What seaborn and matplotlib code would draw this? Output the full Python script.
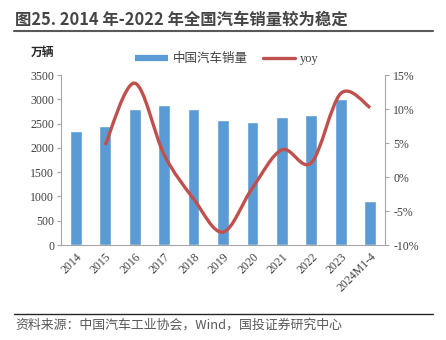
import numpy as np
import pandas as pd
import matplotlib
matplotlib.use("Agg")
import matplotlib.pyplot as plt
import seaborn as sns
from matplotlib.path import Path
from matplotlib.patches import PathPatch
from matplotlib.lines import Line2D

# ---- data ----
categories = ["2014", "2015", "2016", "2017", "2018", "2019", "2020",
              "2021", "2022", "2023", "2024M1-4"]
sales = [2349, 2460, 2803, 2888, 2808, 2577, 2531, 2627, 2686, 3009, 897]
yoy_cats = categories[1:]
yoy = [4.7, 13.8, 3.3, -3.2, -8.1, -1.6, 4.0, 2.1, 12.3, 10.2]

BAR = "#5B9BD5"
RED = "#C0504D"
AXC = "#A6A6A6"
TXT = "#404040"

sns.set_style("white")
plt.rcParams["font.family"] = ["Liberation Serif", "Noto Sans CJK SC", "DejaVu Sans"]

fig = plt.figure(figsize=(4.46, 3.40), dpi=100)
W, H = 446, 340
ax = fig.add_axes([61 / W, 1 - 245 / H, (385 - 61) / W, (245 - 75) / H])

df = pd.DataFrame({"cat": categories, "sales": sales})
sns.barplot(data=df, x="cat", y="sales", color=BAR, saturation=1,
            width=0.4, ax=ax, zorder=2)
ax.set_xlim(-0.5, len(categories) - 0.5)
ax.set_ylim(0, 3500)
ax.set_yticks(np.arange(0, 3501, 500))
ax.set_xlabel("")
ax.set_ylabel("")

# x ticks: labels at centers, tick marks at boundaries
ax.set_xticks(np.arange(len(categories)))
ax.set_xticklabels(categories, rotation=45, ha="right", va="top",
                   rotation_mode="anchor", fontsize=8.5, color=TXT)
ax.tick_params(axis="x", which="major", length=0, pad=4)
ax.set_xticks(np.arange(-0.5, len(categories)), minor=True)
ax.tick_params(axis="x", which="minor", length=4, color=AXC, width=0.8,
               direction="out")
ax.tick_params(axis="y", length=3, color=AXC, width=0.8, direction="out",
               labelsize=8.5, labelcolor=TXT, pad=2, left=True)

for s in ["top", "right"]:
    ax.spines[s].set_visible(False)
for s in ["left", "bottom"]:
    ax.spines[s].set_color(AXC)
    ax.spines[s].set_linewidth(0.8)

# ---- yoy line (smoothed, Catmull-Rom through the data points) ----
ax2 = ax.twinx()
ax2.set_ylim(-10, 15)
ax2.set_yticks(np.arange(-10, 16, 5))
ax2.set_yticklabels([f"{v}%" for v in range(-10, 16, 5)])
ax2.tick_params(axis="y", length=3, color=AXC, width=0.8, direction="out",
                labelsize=8.5, labelcolor=TXT, pad=3)
for s in ["top", "left", "bottom"]:
    ax2.spines[s].set_visible(False)
ax2.spines["right"].set_color(AXC)
ax2.spines["right"].set_linewidth(0.8)

xs = np.array([categories.index(c) for c in yoy_cats], dtype=float)
ys = np.array(yoy, dtype=float)
pts = np.column_stack([xs, ys])
verts = [tuple(pts[0])]
codes = [Path.MOVETO]
n = len(pts)
for i in range(n - 1):
    p0 = pts[i - 1] if i > 0 else pts[i]
    p1 = pts[i]
    p2 = pts[i + 1]
    p3 = pts[i + 2] if i + 2 < n else pts[i + 1]
    c1 = p1 + (p2 - p0) / 6.0
    c2 = p2 - (p3 - p1) / 6.0
    verts += [tuple(c1), tuple(c2), tuple(p2)]
    codes += [Path.CURVE4] * 3
patch = PathPatch(Path(verts, codes), facecolor="none", edgecolor=RED,
                  lw=2.4, capstyle="butt", zorder=3)
ax2.add_patch(patch)

# ---- legend ----
handles = [Line2D([], [], color=BAR, lw=4.5, solid_capstyle="butt"),
           Line2D([], [], color=RED, lw=2.4)]
fig.legend(handles, ["中国汽车销量", "yoy"], loc="center",
           bbox_to_anchor=(227 / W, 1 - 59 / H), ncol=2, frameon=False,
           fontsize=9, handlelength=2.6, handletextpad=0.4,
           columnspacing=1.2, labelcolor=TXT,
           prop={"family": ["Liberation Serif", "Noto Sans CJK SC"], "size": 9})

# unit label
fig.text(31 / W, 1 - 52 / H, "万辆", fontsize=8.5, fontweight="bold",
         family=["Noto Sans CJK SC"], color="#262626", va="center", ha="left")

# ---- title and rules ----
fig.text(15 / W, 1 - 20 / H, "图25. 2014 年-2022 年全国汽车销量较为稳定",
         fontsize=11.8, fontweight="bold", family=["Noto Sans CJK SC", "DejaVu Sans"],
         color="#454545", va="center", ha="left")
fig.add_artist(Line2D([14 / W, 433 / W], [1 - 31 / H, 1 - 31 / H],
                      color="#595959", lw=1.5, transform=fig.transFigure))
fig.add_artist(Line2D([14 / W, 433 / W], [1 - 314 / H, 1 - 314 / H],
                      color="#262626", lw=1.0, transform=fig.transFigure))
fig.text(15 / W, 1 - 325 / H, "资料来源：中国汽车工业协会，Wind，国投证券研究中心",
         fontsize=9.3, family=["Noto Sans CJK SC", "DejaVu Sans"], style="italic",
         color="#595959", va="center", ha="left")

fig.savefig("out.png", dpi=100)
